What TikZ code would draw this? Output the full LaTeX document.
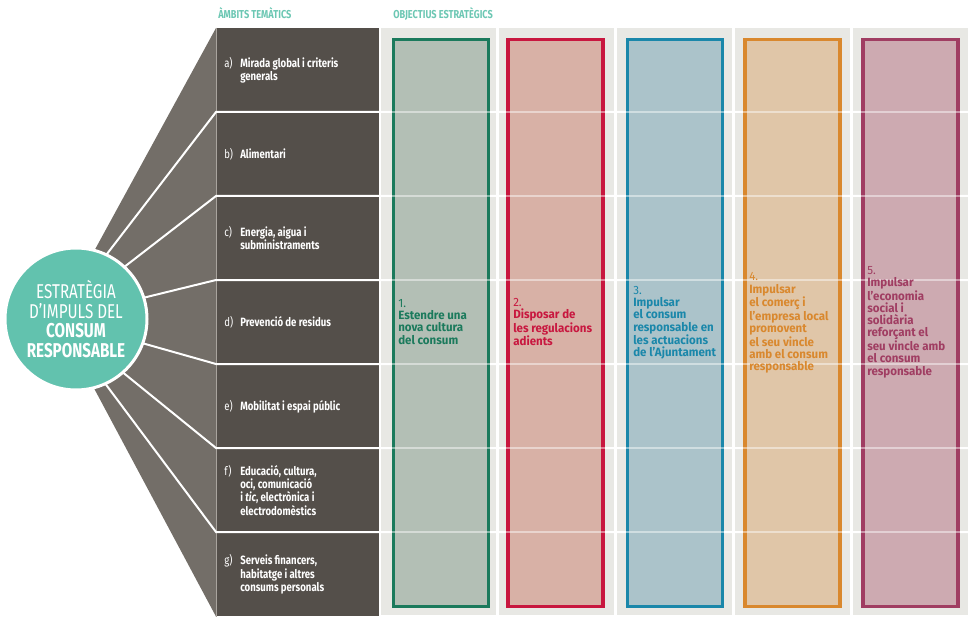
\documentclass[tikz,border=0pt]{standalone}
\usepackage{fontspec}
\newfontfamily\cond[FakeStretch=0.80]{Fira Sans}
\newfontfamily\condw[FakeStretch=0.96]{Fira Sans}
\newfontfamily\condc[FakeStretch=0.76]{Fira Sans}
\definecolor{rowdark}{HTML}{544F4A}
\definecolor{fangray}{HTML}{736E68}
\definecolor{fanedge}{HTML}{A9A49E}
\definecolor{panelgray}{HTML}{E8E8E4}
\definecolor{circteal}{HTML}{62C2AE}
\definecolor{hdrteal}{HTML}{6CC7B3}
\definecolor{gS}{HTML}{1B7A5C}\definecolor{gF}{HTML}{B3BFB5}
\definecolor{rS}{HTML}{C8173F}\definecolor{rF}{HTML}{D8B1A6}
\definecolor{bS}{HTML}{1A87AA}\definecolor{bF}{HTML}{ABC3CA}
\definecolor{oS}{HTML}{D9882E}\definecolor{oF}{HTML}{E0C6A8}
\definecolor{pS}{HTML}{A03D62}\definecolor{pF}{HTML}{CDAAB1}
\newcommand\rowlab[2]{\makebox[12pt][l]{#1}\parbox[t]{108pt}{\raggedright\bfseries #2}}
\begin{document}
\begin{tikzpicture}[x=0.75pt,y=-0.75pt,
  rowbox/.style={fill=rowdark, draw=none, minimum width=122.25pt, minimum height=63pt, inner sep=0pt, anchor=north west},
  rowtext/.style={anchor=west, inner sep=0pt, text=white, font=\cond\fontsize{9}{10}\selectfont},
  sepline/.style={white, line width=1.5pt},
  seplite/.style={white, opacity=0.45, line width=1.5pt},
  panel/.style={fill=panelgray, draw=none, inner sep=0pt, anchor=north west, minimum width=86.25pt, minimum height=440.25pt},
  objbox/.style 2 args={draw=#1, fill=#2, line width=2.4pt, minimum width=71.25pt, minimum height=425.25pt, inner sep=0pt},
  coltext/.style={anchor=west, inner sep=0pt, align=left, text=#1, font=\condw\bfseries\fontsize{9}{9.1}\selectfont},
  hdr/.style={anchor=base west, inner sep=0pt, text=hdrteal, font=\cond\bfseries\fontsize{8.6}{9}\selectfont},
  core/.style={circle, fill=circteal, draw=white, line width=2.25pt, minimum size=106.5pt, inner sep=0pt, text=white, align=center, font=\condc\fontsize{15}{14.8}\selectfont}
]
\useasboundingbox (0,0) rectangle (969,620);

% headers
\node[hdr] (h1) at (218,19) {ÀMBITS TEMÀTICS};
\node[hdr] (h2) at (393,19) {OBJECTIUS ESTRATÈGICS};

% rows
\node[rowbox] (ra) at (216,28) {};
\node[rowbox] (rb) at (216,112) {};
\node[rowbox] (rc) at (216,196) {};
\node[rowbox] (rd) at (216,280) {};
\node[rowbox] (re) at (216,364) {};
\node[rowbox] (rf) at (216,448) {};
\node[rowbox] (rg) at (216,532) {};

% fan
\coordinate (apex) at (57,319);
\fill[fangray] (apex) -- (ra.north west) -- (rg.south west) -- cycle;
\draw[fanedge, line width=0.75pt] (ra.north west) -- (rg.south west);

% panels
\node[panel] (p1) at (381,28) {};
\node[panel] (p2) at (499,28) {};
\node[panel] (p3) at (617,28) {};
\node[panel] (p4) at (735,28) {};
\node[panel] (p5) at (853,28) {};

% separators
\foreach \r in {rb,rc,rd,re,rf,rg}{
  \draw[sepline] (apex) -- (\r.north west) -- (\r.north west -| p5.east);
}

% objective boxes
\node[objbox={gS}{gF}] (o1) at (441,323) {};
\node[objbox={rS}{rF}] (o2) at (555.5,323) {};
\node[objbox={bS}{bF}] (o3) at (675,323) {};
\node[objbox={oS}{oF}] (o4) at (792.5,323) {};
\node[objbox={pS}{pF}] (o5) at (910.5,323) {};
\foreach \r in {rb,rc,rd,re,rf,rg}{
  \draw[seplite] (\r.north west -| p1.west) -- (\r.north west -| p5.east);
}

% row texts
\node[rowtext] (ta) at ([xshift=6pt]ra.west) {\rowlab{a)}{Mirada global i criteris\\generals}};
\node[rowtext] (tb) at ([xshift=6pt]rb.west) {\rowlab{b)}{Alimentari}};
\node[rowtext] (tc) at ([xshift=6pt]rc.west) {\rowlab{c)}{Energia, aigua i\\subministraments}};
\node[rowtext] (td) at ([xshift=6pt]rd.west) {\rowlab{d)}{Prevenció de residus}};
\node[rowtext] (te) at ([xshift=6pt]re.west) {\rowlab{e)}{Mobilitat i espai públic}};
\node[rowtext] (tf) at ([xshift=6pt]rf.west) {\rowlab{f)}{Educació, cultura,\\oci, comunicació\\i \textit{tic}, electrònica i\\electrodomèstics}};
\node[rowtext] (tg) at ([xshift=6pt]rg.west) {\rowlab{g)}{Serveis financers,\\habitatge i altres\\consums personals}};

% column texts
\node[coltext=gS] (c1) at (398,322) {{\mdseries 1.}\\Estendre una\\nova cultura\\del consum};
\node[coltext=rS] (c2) at (513,322) {{\mdseries 2.}\\Disposar de\\les regulacions\\adients};
\node[coltext=bS] (c3) at (633,323) {{\mdseries 3.}\\Impulsar\\el consum\\responsable en\\les actuacions\\de l’Ajuntament};
\node[coltext=oS] (c4) at (749,323) {{\mdseries 4.}\\Impulsar\\el comerç i\\l’empresa local\\promovent\\el seu vincle\\amb el consum\\responsable};
\node[coltext=pS] (c5) at (867,322) {{\mdseries 5.}\\Impulsar\\l’economia\\social i\\solidària\\reforçant el\\seu vincle amb\\el consum\\responsable};

% central circle
\node[core] (centre) at (76,319) {ESTRATÈGIA\\D’IMPULS DEL\\\textbf{CONSUM}\\\textbf{RESPONSABLE}};
\end{tikzpicture}
\end{document}
